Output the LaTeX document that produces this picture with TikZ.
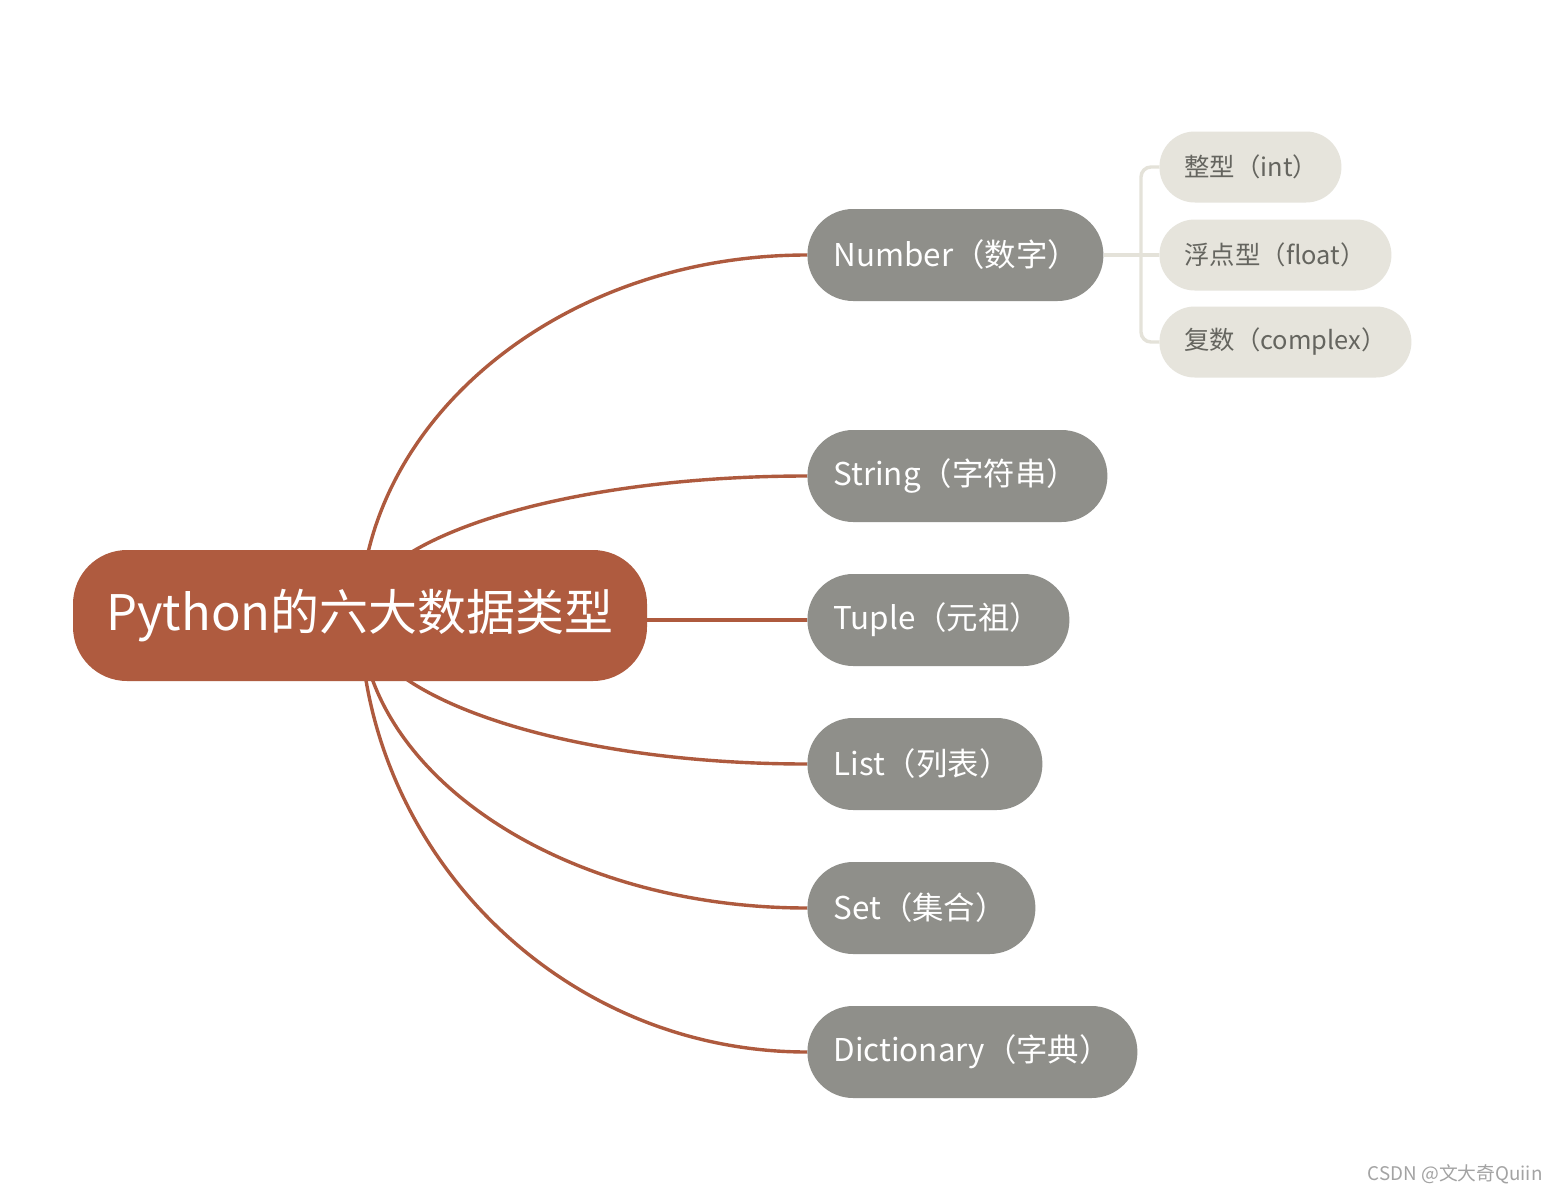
\documentclass[tikz,border=0pt]{standalone}
\usepackage{fontspec}
\setmainfont{Noto Sans CJK SC}
\usetikzlibrary{backgrounds}
\definecolor{rootc}{HTML}{AF5B3F}
\definecolor{linkc}{HTML}{AE5A3E}
\definecolor{topicc}{HTML}{8F8F8A}
\definecolor{subc}{HTML}{E6E4DC}
\definecolor{subtext}{HTML}{65655F}
\definecolor{sublinkc}{HTML}{E4E2D9}
\definecolor{wmc}{HTML}{A3A3A3}
\pgfdeclarelayer{bg}
\pgfsetlayers{bg,background,main}
\tikzset{
  rootbox/.style={fill=rootc, text=white, rounded corners=27pt, minimum width=287pt,
    minimum height=65.5pt, inner sep=0pt, font=\fontsize{24.5}{24.5}\selectfont},
  topicbox/.style={fill=topicc, text=white, rounded corners=22.9pt, minimum height=46pt,
    inner xsep=13pt, inner ysep=0pt, anchor=west, align=left, font=\fontsize{15.7}{15.7}\selectfont},
  subbox/.style={fill=subc, text=subtext, rounded corners=17.7pt, minimum height=35.5pt,
    inner xsep=12.5pt, inner ysep=0pt, anchor=west, align=left, font=\fontsize{12.7}{12.7}\selectfont},
  link/.style={draw=linkc, line width=1.7pt},
  sublink/.style={draw=sublinkc, line width=1.7pt, rounded corners=5pt}
}
\begin{document}
\begin{tikzpicture}[x=0.5pt,y=-0.5pt]
\begin{pgfonlayer}{bg}
\fill[white] (0,0) rectangle (1558,1194);
\end{pgfonlayer}
\useasboundingbox (0,0) rectangle (1558,1194);

\node[rootbox] (root) at (360,615.5) {Python的六大数据类型};

\node[topicbox, text width=122pt] (num) at (807,255) {Number（数字）};
\node[topicbox, text width=124pt] (str) at (807,476) {String（字符串）};
\node[topicbox, text width=105pt] (tup) at (807,620) {Tuple（元祖）};
\node[topicbox, text width=91.5pt] (lst) at (807,764) {List（列表）};
\node[topicbox, text width=88pt] (set) at (807,908) {Set（集合）};
\node[topicbox, text width=139pt] (dic) at (807,1052) {Dictionary（字典）};

\node[subbox, text width=66pt] (s1) at (1159,167) {整型（int）};
\node[subbox, text width=91pt] (s2) at (1159,255) {浮点型（float）};
\node[subbox, text width=101pt] (s3) at (1159,342) {复数（complex）};

\coordinate (bj) at (1141,255);

\node[text=wmc, anchor=east, inner sep=0pt, font=\fontsize{9.4}{9.4}\selectfont] (wm) at (1543,1174) {CSDN @文大奇Quiin};

\begin{pgfonlayer}{background}
\draw[link] (root.center) .. controls (364,420) and (560,255) .. (num.west);
\draw[link] (root.center) .. controls (364,540) and (560,476) .. (str.west);
\draw[link] (tup.west -| root.center) -- (tup.west);
\draw[link] (root.center) .. controls (364,695) and (560,764) .. (lst.west);
\draw[link] (root.center) .. controls (364,773) and (560,908) .. (set.west);
\draw[link] (root.center) .. controls (364,851) and (560,1052) .. (dic.west);
\draw[sublink] (num.east) -- (s2.west);
\draw[sublink] (s1.west) -| (bj) |- (s3.west);
\end{pgfonlayer}
\end{tikzpicture}
\end{document}
